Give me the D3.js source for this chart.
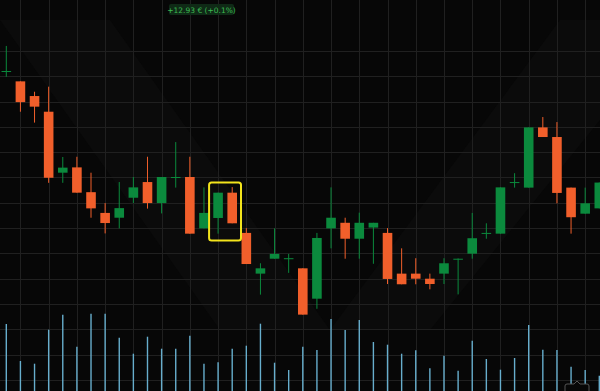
<!DOCTYPE html>
<html>
<head>
<meta charset="utf-8">
<script src="https://cdn.jsdelivr.net/npm/d3@7/dist/d3.min.js"></script>
<style>
  html, body { margin: 0; padding: 0; background: #070707; }
  svg { display: block; }
</style>
</head>
<body>
<div id="chart"></div>
<script>
// OHLC per candle (index = position on the time axis)
const opens  = [12981.9, 12978.0, 12972.2, 12966.0, 12941.9, 12944.0, 12934.2, 12926.0, 12924.1, 12932.0,
                12938.2, 12929.9, 12940.0, 12940.2, 12919.9, 12924.0, 12934.0, 12918.1, 12902.0, 12907.9,
                12907.9, 12904.1, 12892.1, 12919.9, 12922.1, 12915.8, 12920.2, 12918.1, 12902.0, 12902.0,
                12900.0, 12902.0, 12907.8, 12909.9, 12917.9, 12917.8, 12938.0, 12936.0, 12959.8, 12956.0,
                12936.0, 12925.7, 12927.8];
const highs  = [12992.0, 12978.0, 12973.9, 12975.9, 12948.1, 12948.2, 12941.9, 12929.9, 12938.2, 12940.2,
                12948.2, 12940.2, 12954.0, 12948.2, 12936.1, 12934.0, 12936.2, 12920.0, 12906.1, 12919.9,
                12909.8, 12904.1, 12918.1, 12936.1, 12924.1, 12926.1, 12922.1, 12920.0, 12912.0, 12908.1,
                12902.0, 12908.1, 12908.0, 12926.0, 12921.9, 12936.1, 12941.7, 12959.8, 12963.9, 12961.9,
                12936.0, 12936.0, 12938.0];
const lows   = [12979.8, 12966.0, 12961.7, 12937.9, 12937.9, 12934.0, 12924.1, 12917.9, 12919.9, 12929.9,
                12927.7, 12925.8, 12936.0, 12917.8, 12919.9, 12917.8, 12921.9, 12905.8, 12893.7, 12907.9,
                12902.3, 12885.8, 12888.1, 12912.0, 12907.9, 12907.9, 12905.9, 12897.9, 12897.8, 12897.8,
                12895.8, 12897.9, 12893.8, 12907.9, 12915.8, 12917.8, 12936.0, 12936.0, 12956.0, 12929.8,
                12917.8, 12925.7, 12927.8];
const closes = [12982.1, 12969.8, 12968.0, 12939.9, 12943.9, 12934.0, 12927.8, 12922.0, 12927.9, 12936.1,
                12929.9, 12940.2, 12940.2, 12917.8, 12926.0, 12934.0, 12921.9, 12905.8, 12904.1, 12909.8,
                12908.1, 12885.8, 12916.1, 12924.1, 12915.8, 12922.1, 12922.1, 12899.9, 12897.8, 12900.0,
                12897.9, 12906.1, 12907.9, 12916.0, 12918.1, 12936.1, 12938.2, 12959.8, 12956.0, 12933.9,
                12924.3, 12929.8, 12938.0];
const volumes = [670, 300, 273, 613, 763, 443, 773, 773, 533, 373,
                 543, 423, 423, 553, 273, 287, 423, 453, 673, 283,
                 210, 443, 410, 720, 610, 710, 490, 463, 373, 407,
                 227, 353, 203, 503, 320, 213, 330, 660, 413, 410,
                 243, 210, 153];
const priceTicks = [12860, 12870, 12880, 12890, 12900, 12910, 12920, 12930, 12940, 12950, 12960, 12970, 12980, 12990];
const highlighted = [15, 16];
const changeLabel = "+12.93 € (+0.1%)";

const width = 600, height = 391;
const upColor = "#0b8a3d", downColor = "#f15f2b";

const svg = d3.select("#chart").append("svg")
  .attr("width", width).attr("height", height);

svg.append("rect").attr("width", width).attr("height", height).attr("fill", "#070707");

// faint watermark shapes in the background
const wm = svg.append("g").attr("fill", "#0b0b0b");
wm.append("path").attr("d", "M0,20 L110,20 L330,330 L220,330 Z");
wm.append("path").attr("d", "M330,330 L430,330 L600,120 L600,20 L560,20 Z");

const n = opens.length;
const x = d3.scaleLinear().domain([0, n - 1]).range([6.3, 599.3]);
const y = d3.scaleLinear().domain([12860, 12990]).range([379.9, 51]);
const v = d3.scaleLinear().domain([0, 1000]).range([391, 291]);
const bodyW = 9.6;

// grid
const grid = svg.append("g").attr("stroke", "#202020").attr("stroke-width", 1);
grid.selectAll("line.h").data(priceTicks).join("line")
  .attr("class", "h")
  .attr("x1", 0).attr("x2", width)
  .attr("y1", d => Math.round(y(d)) + 0.5).attr("y2", d => Math.round(y(d)) + 0.5);
grid.selectAll("line.v").data(d3.range(1, n + 1, 2)).join("line")
  .attr("class", "v")
  .attr("y1", 0).attr("y2", height)
  .attr("x1", d => Math.round(x(d)) + 0.5).attr("x2", d => Math.round(x(d)) + 0.5);

// volume
svg.append("g").selectAll("line").data(volumes).join("line")
  .attr("x1", (d, i) => x(i)).attr("x2", (d, i) => x(i))
  .attr("y1", v(0)).attr("y2", d => v(d))
  .attr("stroke", "#67aecd").attr("stroke-width", 1.4);

// candles
const candles = d3.range(n).map(i => ({ i, o: opens[i], h: highs[i], l: lows[i], c: closes[i] }));
const g = svg.append("g").selectAll("g").data(candles).join("g");
const col = d => d.c >= d.o ? upColor : downColor;

g.append("line")
  .attr("x1", d => x(d.i)).attr("x2", d => x(d.i))
  .attr("y1", d => y(d.h)).attr("y2", d => y(d.l))
  .attr("stroke", col).attr("stroke-width", 1);

g.append("rect")
  .attr("x", d => x(d.i) - bodyW / 2)
  .attr("width", bodyW)
  .attr("y", d => y(Math.max(d.o, d.c)))
  .attr("height", d => Math.max(1, Math.abs(y(d.o) - y(d.c))))
  .attr("fill", col);

// highlight box
const hx0 = x(d3.min(highlighted)) - bodyW / 2 - 4.2;
const hx1 = x(d3.max(highlighted)) + bodyW / 2 + 4;
const hy0 = y(d3.max(highlighted, i => highs[i])) - 4.5;
const hy1 = y(d3.min(highlighted, i => lows[i])) + 6.8;
svg.append("rect")
  .attr("x", hx0).attr("y", hy0)
  .attr("width", hx1 - hx0).attr("height", hy1 - hy0)
  .attr("rx", 2.5)
  .attr("fill", "none").attr("stroke", "#f3e41c").attr("stroke-width", 2);

// change label
const lab = svg.append("g").attr("transform", "translate(169,4)");
lab.append("rect").attr("width", 65).attr("height", 11).attr("rx", 2).attr("fill", "#0f2a16");
lab.append("text").attr("x", 32.5).attr("y", 8.5)
  .attr("text-anchor", "middle")
  .attr("font-family", "DejaVu Sans, sans-serif").attr("font-size", 7.5)
  .attr("fill", "#3dbb52").text(changeLabel);

// small scroll tab bottom right
svg.append("path")
  .attr("d", "M565,391 L565,386 Q565,384 567,384 L574,384 L577,381 L580,384 L587,384 Q589,384 589,386 L589,391")
  .attr("fill", "#070707").attr("stroke", "#555").attr("stroke-width", 1);
</script>
</body>
</html>
